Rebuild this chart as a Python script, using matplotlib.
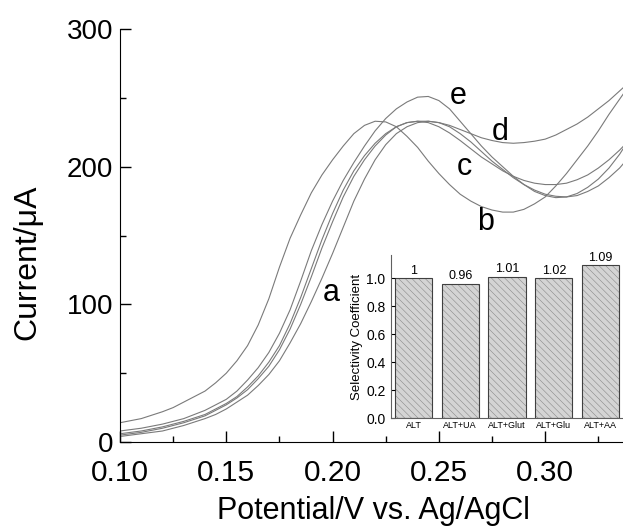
# ALT selectivity: DPV curves a-e with inset bar chart of selectivity coefficients

import numpy as np
import matplotlib.pyplot as plt

plt.rcParams['font.family'] = ['Liberation Sans', 'DejaVu Sans']
plt.rcParams['hatch.linewidth'] = 0.4

# potential (V), 5 mV steps
potential = [0.100, 0.105, 0.110, 0.115, 0.120, 0.125, 0.130, 0.135, 0.140, 0.145,
             0.150, 0.155, 0.160, 0.165, 0.170, 0.175, 0.180, 0.185, 0.190, 0.195,
             0.200, 0.205, 0.210, 0.215, 0.220, 0.225, 0.230, 0.235, 0.240, 0.245,
             0.250, 0.255, 0.260, 0.265, 0.270, 0.275, 0.280, 0.285, 0.290, 0.295,
             0.300, 0.305, 0.310, 0.315, 0.320, 0.325, 0.330, 0.335, 0.340]

# current (uA)
curve_a = [4, 5, 6, 7, 8, 10, 12, 14.5, 17, 20,
           24, 29, 34, 41, 49, 59, 72, 86, 102, 119,
           137, 156, 175, 191, 205, 216, 224, 229, 232, 233,
           232, 229, 224, 218, 211, 204, 198, 192, 187, 183,
           180, 178.5, 178, 179, 182, 186, 192, 199, 208]
curve_b = [14, 15.5, 17, 19.5, 22, 25, 29, 33, 37, 43,
           50, 59, 70, 85, 104, 127, 148, 165, 181, 194,
           205, 215, 224, 230, 233, 232.5, 229, 222, 214, 204,
           195, 187, 180, 175, 171, 168.5, 167, 167, 169, 173,
           178, 186, 195, 205, 215, 226, 238, 249, 260]
curve_c = [5, 6, 7, 8.5, 10, 12, 14, 16.5, 19, 23,
           27, 32, 38, 46, 55, 67, 82, 100, 120, 141,
           160, 178, 193, 205, 215, 223, 229, 232, 233, 232,
           229, 224.5, 219, 213, 207, 202, 197, 193, 190, 188,
           187, 187, 188, 190.5, 194, 199, 205, 212, 220]
curve_d = [6, 7, 8, 9.5, 11, 13, 15, 17.5, 20, 24,
           28, 33, 40, 48, 58, 70, 86, 105, 126, 147,
           166, 183, 197, 208, 217, 224, 229, 232, 233, 233,
           232, 230, 227, 224, 221, 219, 217.5, 217, 217.5, 218.5,
           220, 223, 227, 231, 236, 242, 248, 255, 262]
curve_e = [8, 9, 10, 11.5, 13, 15, 17, 20, 23, 27,
           31, 37, 45, 54, 65, 79, 96, 117, 139, 158,
           175, 190, 203, 215, 226, 235, 242, 247, 250.5, 251,
           248, 242, 233, 224, 215, 207, 200, 193, 187, 182,
           179, 177.5, 178, 180.5, 185, 191, 199, 209, 221]

curves = [curve_a, curve_b, curve_c, curve_d, curve_e]
curve_names = ['a', 'b', 'c', 'd', 'e']
label_x = [0.1996, 0.272, 0.262, 0.279, 0.259]
label_y = [108, 160, 200, 225, 251]

# inset data
samples = ['ALT', 'ALT+UA', 'ALT+Glut', 'ALT+Glu', 'ALT+AA']
coefficients = [1.0, 0.96, 1.01, 1.0, 1.09]
coef_text = ['1', '0.96', '1.01', '1.02', '1.09']

W, H = 623, 526
fig = plt.figure(figsize=(W / 100, H / 100), dpi=100)

# main axes
ax = fig.add_axes([120 / W, 84 / H, 503 / W, 413 / H])
for y in curves:
    ax.plot(potential, y, color='#7a7a7a', lw=0.8)

for name, lx, ly in zip(curve_names, label_x, label_y):
    ax.text(lx, ly, name, fontsize=22, ha='center', va='center')

ax.set_xlim(0.10, 0.3366)
ax.set_ylim(0, 300)
ax.set_xticks([0.10, 0.15, 0.20, 0.25, 0.30])
ax.set_xticks([0.125, 0.175, 0.225, 0.275, 0.325], minor=True)
ax.set_yticks([0, 100, 200, 300])
ax.set_yticks([50, 150, 250], minor=True)
ax.set_xticklabels(['0.10', '0.15', '0.20', '0.25', '0.30'])
ax.tick_params(which='major', direction='in', length=8, width=1)
ax.tick_params(which='minor', direction='in', length=4, width=1)
ax.tick_params(axis='x', pad=12, labelsize=21.5)
ax.tick_params(axis='y', pad=5, labelsize=20)
ax.spines['top'].set_visible(False)
ax.spines['right'].set_visible(False)

fig.text(27 / W, 1 - 262 / H, 'Current/\u03bcA', rotation=90, fontsize=23,
         ha='center', va='center')
fig.text(373 / W, 1 - 511 / H, 'Potential/V vs. Ag/AgCl', fontsize=22,
         ha='center', va='center')

# inset bar chart
ins = fig.add_axes([391 / W, 108 / H, 232 / W, 163 / H])
pos = np.arange(len(samples))
ins.bar(pos, coefficients, width=0.8, color='#d4d4d4', edgecolor='#8a8a8a',
        hatch='\\\\\\\\\\', lw=0)
ins.bar(pos, coefficients, width=0.8, fill=False, edgecolor='#404040', lw=0.8)
for p, v, t in zip(pos, coefficients, coef_text):
    ins.text(p, v + 0.01, t, fontsize=9, ha='center', va='bottom')

ins.set_xlim(-0.48, 4.48)
ins.set_ylim(0, 1.165)
ins.set_xticks(pos)
ins.set_xticklabels(samples, fontsize=6.5)
ins.set_yticks([0.0, 0.2, 0.4, 0.6, 0.8, 1.0])
ins.set_yticklabels(['0.0', '0.2', '0.4', '0.6', '0.8', '1.0'])
ins.tick_params(axis='y', direction='in', length=3, labelsize=10, pad=4)
ins.tick_params(axis='x', length=0, pad=2)
ins.spines['top'].set_visible(False)
ins.spines['right'].set_visible(False)
ins.spines['left'].set_color('#606060')
ins.spines['bottom'].set_color('#606060')
ins.patch.set_alpha(0)
ins.set_ylabel('Selectivity Coefficient', fontsize=9.5, labelpad=2)

fig.savefig('out.png', dpi=100)
